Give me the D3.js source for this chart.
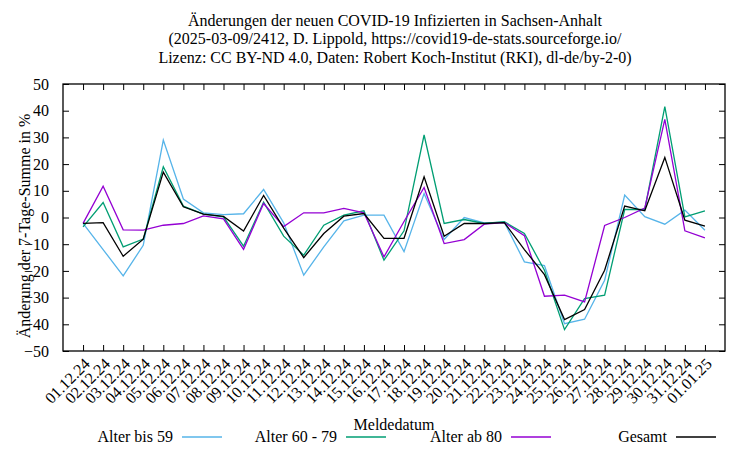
<!DOCTYPE html>
<html><head><meta charset="utf-8">
<script src="https://cdn.jsdelivr.net/npm/d3@7"></script>
<style>
body{margin:0;background:#fff;}
svg text{font-family:"Liberation Serif","Times New Roman",serif;font-size:16px;fill:#000;}
</style></head><body>
<svg id="chart" width="750" height="450"></svg>
<script>
const dates = ["01.12.24","02.12.24","03.12.24","04.12.24","05.12.24","06.12.24","07.12.24","08.12.24","09.12.24","10.12.24","11.12.24","12.12.24","13.12.24","14.12.24","15.12.24","16.12.24","17.12.24","18.12.24","19.12.24","20.12.24","21.12.24","22.12.24","23.12.24","24.12.24","25.12.24","26.12.24","27.12.24","28.12.24","29.12.24","30.12.24","31.12.24","01.01.25"];
const bis59 = [-2.2,-12,-21.9,-10.4,29,6.9,1.75,1.1,1.4,10.5,-2,-21.6,-11,-1.25,0.9,0.9,-12.8,9,-8.25,0,-2,-1.8,-16.6,-18,-39.75,-38.1,-23.5,8.4,0.3,-2.5,2.75,-4.8];
const a6079 = [-3.5,5.6,-11,-8.1,19,4.25,1.25,0.25,-10.75,5.75,-7,-14.1,-2.9,0.9,2.5,-16,-5,30.9,-2.25,-0.75,-2.25,-1.6,-6,-19.75,-42,-30.4,-29.1,3,3,41.5,0.25,2.5];
const ab80 = [-2.2,11.7,-4.6,-4.75,-2.9,-2.25,0.6,-0.5,-11.9,5.25,-3.4,1.75,1.75,3.4,1.75,-14.75,-1.5,11.25,-9.75,-8.25,-2.5,-1.9,-6.8,-29.5,-29.1,-31.6,-3,0,3.5,36.75,-5,-7.6];
const gesamt = [-2.2,-1.9,-14.5,-8.1,17,4,1.25,0.4,-5.1,8.25,-4,-15,-6,0.5,1.5,-7.8,-7.8,15.25,-7,-2.25,-2.25,-1.9,-12,-21.4,-38.25,-34.5,-19.75,4.3,2.5,22.5,-1,-3.25];
const yTicks = [50,40,30,20,10,0,-10,-20,-30,-40,-50];
const seriesNames = ["Alter bis 59","Alter 60 - 79","Alter ab 80","Gesamt"];
const titleLines = ["Änderungen der neuen COVID-19 Infizierten in Sachsen-Anhalt","(2025-03-09/2412, D. Lippold, https://covid19-de-stats.sourceforge.io/","Lizenz: CC BY-ND 4.0, Daten: Robert Koch-Institut (RKI), dl-de/by-2-0)"];

const series = [
  {name:seriesNames[0], values:bis59, color:"#56b4e9"},
  {name:seriesNames[1], values:a6079, color:"#009e73"},
  {name:seriesNames[2], values:ab80, color:"#9400d3"},
  {name:seriesNames[3], values:gesamt, color:"#000000"}
];

const svg = d3.select("#chart");
const L=63, R=725, T=84, B=351;
const x = d3.scaleLinear().domain([-1, dates.length]).range([L,R]);
const y = d3.scaleLinear().domain([-50,50]).range([B,T]);

// title
svg.append("g").selectAll("text").data(titleLines).join("text")
  .attr("x",395).attr("y",(d,i)=>25.5+i*18.5).attr("text-anchor","middle").text(d=>d);

// axes with inward ticks
const tick = 6;
const gl = svg.append("g").attr("transform",`translate(${L},0)`)
  .call(d3.axisLeft(y).tickValues(yTicks).tickSizeInner(-tick).tickSizeOuter(0).tickPadding(tick+8));
const gr = svg.append("g").attr("transform",`translate(${R},0)`)
  .call(d3.axisRight(y).tickValues(yTicks).tickSizeInner(-tick).tickSizeOuter(0).tickFormat(""));
const idx = d3.range(dates.length);
const gb = svg.append("g").attr("transform",`translate(0,${B})`)
  .call(d3.axisBottom(x).tickValues(idx).tickSizeInner(-tick).tickSizeOuter(0).tickFormat(""));
const gt = svg.append("g").attr("transform",`translate(0,${T})`)
  .call(d3.axisTop(x).tickValues(idx).tickSizeInner(-tick).tickSizeOuter(0).tickFormat(""));
[gl,gr,gb,gt].forEach(g=>{g.select(".domain").remove(); g.selectAll("line").attr("stroke","#000").attr("stroke-width",1);});
gl.selectAll("text").style("font-family","Liberation Serif").style("font-size","16px").attr("fill","#000");

// x tick labels rotated
svg.append("g").selectAll("text").data(idx).join("text")
  .attr("transform",d=>`translate(${x(d)+4},${B+10}) rotate(-45)`)
  .attr("text-anchor","end").attr("dy","0.35em").text(d=>dates[d]);

// border
svg.append("rect").attr("x",L).attr("y",T).attr("width",R-L).attr("height",B-T)
  .attr("fill","none").attr("stroke","#000").attr("stroke-width",1.3);

// lines
const line = d3.line().x((d,i)=>x(i)).y(d=>y(d));
svg.append("g").selectAll("path").data(series).join("path")
  .attr("d",d=>line(d.values)).attr("fill","none").attr("stroke",d=>d.color).attr("stroke-width",1.3);

// labels
svg.append("text").attr("transform",`translate(30,226) rotate(-90)`).attr("text-anchor","middle").text("Änderung der 7-Tage-Summe in %");
svg.append("text").attr("x",394).attr("y",430).attr("text-anchor","middle").text("Meldedatum");

// legend
const legX = [182,346,511,676];
const lg = svg.append("g").selectAll("g").data(series).join("g")
  .attr("transform",(d,i)=>`translate(${legX[i]},437)`);
lg.append("text").attr("x",-9).attr("dy","0.33em").attr("text-anchor","end").text(d=>d.name);
lg.append("line").attr("x1",0).attr("x2",40).attr("stroke",d=>d.color).attr("stroke-width",1.3);
</script></body></html>
